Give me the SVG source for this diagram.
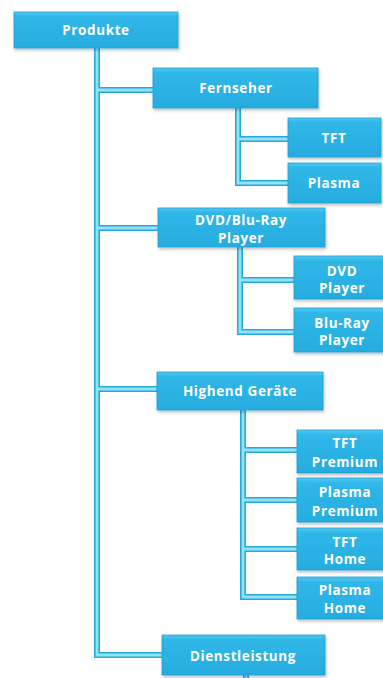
<svg xmlns="http://www.w3.org/2000/svg" xmlns:xlink="http://www.w3.org/1999/xlink" width="383" height="678" viewBox="0 0 383 678">
<defs>
<linearGradient id="boxg" x1="0" y1="0" x2="0" y2="1">
<stop offset="0" stop-color="#52c9f0"/>
<stop offset="0.12" stop-color="#2fb7e8"/>
<stop offset="1" stop-color="#27acdf"/>
</linearGradient>
<filter id="sh" x="-10%" y="-10%" width="130%" height="140%">
<feDropShadow dx="1" dy="2" stdDeviation="1.5" flood-color="#000" flood-opacity="0.25"/>
</filter>
<path id="conn" d="M97,48 V655 M97,90 H153 M97,228 H158 M97,389 H157 M97,655 H162 M238,108 V183 M238,139 H288 M238,183 H288 M240,247 V332 M240,280 H294 M240,332 H294 M243,410 V597 M243,450 H297 M243,500 H297 M243,549 H297 M243,597 H297 M246,675 V678"/>
</defs>
<style>
.box{fill:url(#boxg);stroke:#1f9fd2;stroke-width:0.8;filter:url(#sh)}
.t{font-family:"Open Sans","Liberation Sans",sans-serif;font-weight:bold;font-size:13.5px;fill:#ffffff;text-anchor:middle;dominant-baseline:central;letter-spacing:0.6px}
.outer{fill:none;stroke:#2aa9d9;stroke-width:6;stroke-linecap:square}
.inner{fill:none;stroke:#90e4f8;stroke-width:2.8;stroke-linecap:square}
</style>
<rect width="383" height="678" fill="#ffffff"/>
<g id="connectors">
<use xlink:href="#conn" class="outer"/>
<use xlink:href="#conn" class="inner"/>
</g>
<g id="produkte"><rect class="box" x="14" y="12" width="164" height="36"/><text class="t" x="96" y="30">Produkte</text></g>
<g id="fernseher"><rect class="box" x="153" y="68" width="165" height="40"/><text class="t" x="236" y="88">Fernseher</text></g>
<g id="tft"><rect class="box" x="288" y="118" width="93" height="39"/><text class="t" x="334" y="138">TFT</text></g>
<g id="plasma"><rect class="box" x="288" y="163" width="93" height="40"/><text class="t" x="334" y="183">Plasma</text></g>
<g id="dvdblu"><rect class="box" x="158" y="208" width="167" height="39"/><text class="t" x="241" y="220">DVD/Blu-Ray</text><text class="t" x="241" y="238">Player</text></g>
<g id="dvdplayer"><rect class="box" x="294" y="256" width="96" height="43"/><text class="t" x="342" y="271">DVD</text><text class="t" x="342" y="288">Player</text></g>
<g id="bluplayer"><rect class="box" x="294" y="308" width="96" height="44"/><text class="t" x="342" y="323">Blu-Ray</text><text class="t" x="342" y="340">Player</text></g>
<g id="highend"><rect class="box" x="157" y="372" width="166" height="38"/><text class="t" x="240" y="391">Highend Geräte</text></g>
<g id="tftpremium"><rect class="box" x="297" y="430" width="96" height="43"/><text class="t" x="345" y="443">TFT</text><text class="t" x="345" y="462">Premium</text></g>
<g id="plasmapremium"><rect class="box" x="297" y="478" width="96" height="44"/><text class="t" x="345" y="492">Plasma</text><text class="t" x="345" y="511">Premium</text></g>
<g id="tfthome"><rect class="box" x="297" y="528" width="96" height="42"/><text class="t" x="345" y="542">TFT</text><text class="t" x="345" y="559">Home</text></g>
<g id="plasmahome"><rect class="box" x="297" y="577" width="96" height="42"/><text class="t" x="345" y="590">Plasma</text><text class="t" x="345" y="608">Home</text></g>
<g id="dienstleistung"><rect class="box" x="162" y="635" width="163" height="40"/><text class="t" x="243" y="656">Dienstleistung</text></g>
</svg>
